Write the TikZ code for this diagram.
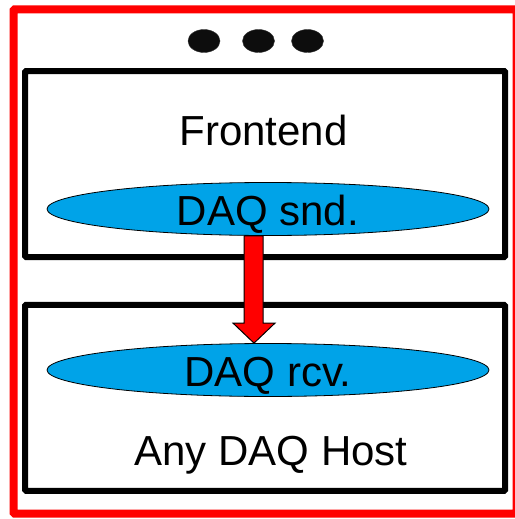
\documentclass[tikz,border=0pt]{standalone}
\usepackage{fontspec}
\setmainfont{Liberation Sans}
\usetikzlibrary{shapes.geometric,backgrounds}

\definecolor{daqblue}{RGB}{0,163,232}

\begin{document}
\begin{tikzpicture}[x=1pt,y=-1pt,
    hostbox/.style = {draw, line width=6pt, rounded corners=1pt, minimum width=480pt, minimum height=186pt, inner sep=0pt},
    daqblob/.style = {ellipse, draw, thick, fill=daqblue, minimum width=442pt, minimum height=53pt, inner sep=0pt, text height=32pt, text depth=0pt, font=\fontsize{42}{48}\selectfont},
    dot/.style = {ellipse, draw=black!80, fill=black!95, minimum width=32pt, minimum height=23pt, inner sep=0pt},
    flowarrow/.style = {draw=black, fill=red, line width=1pt, line join=miter},
    bigtext/.style = {font=\fontsize{42}{48}\selectfont, inner sep=0pt, anchor=base}]
    \useasboundingbox (0,0) rectangle (514,519);
    \draw[red, line width=8pt, rounded corners=1pt] (13.5,9.5) rectangle (516.5,513.5);
    \node[dot] (dot1) at (204,41) {};
    \node[dot] (dot2) at (258.5,41) {};
    \node[dot] (dot3) at (307.5,41) {};
    \node[daqblob] (snd) at (268,209) {DAQ snd.};
    \node[daqblob] (rcv) at (268,370) {DAQ rcv.};
    \node[bigtext] (fronttext) at (263.5,145) {Frontend};
    \node[bigtext] (hosttext) at (271,465) {Any DAQ Host};
    \begin{pgfonlayer}{background}
        \node[hostbox] (front) at (265,164) {};
        \node[hostbox] (host) at (265,397.75) {};
        \draw[flowarrow] ([xshift=-24pt]snd.south) -- ([xshift=-24pt,yshift=20pt]rcv.north)
            -- ([xshift=-35pt,yshift=20pt]rcv.north) -- ([xshift=-14pt]rcv.north)
            -- ([xshift=7pt,yshift=20pt]rcv.north) -- ([xshift=-5pt,yshift=20pt]rcv.north)
            -- ([xshift=-5pt]snd.south) -- cycle;
    \end{pgfonlayer}
\end{tikzpicture}
\end{document}
